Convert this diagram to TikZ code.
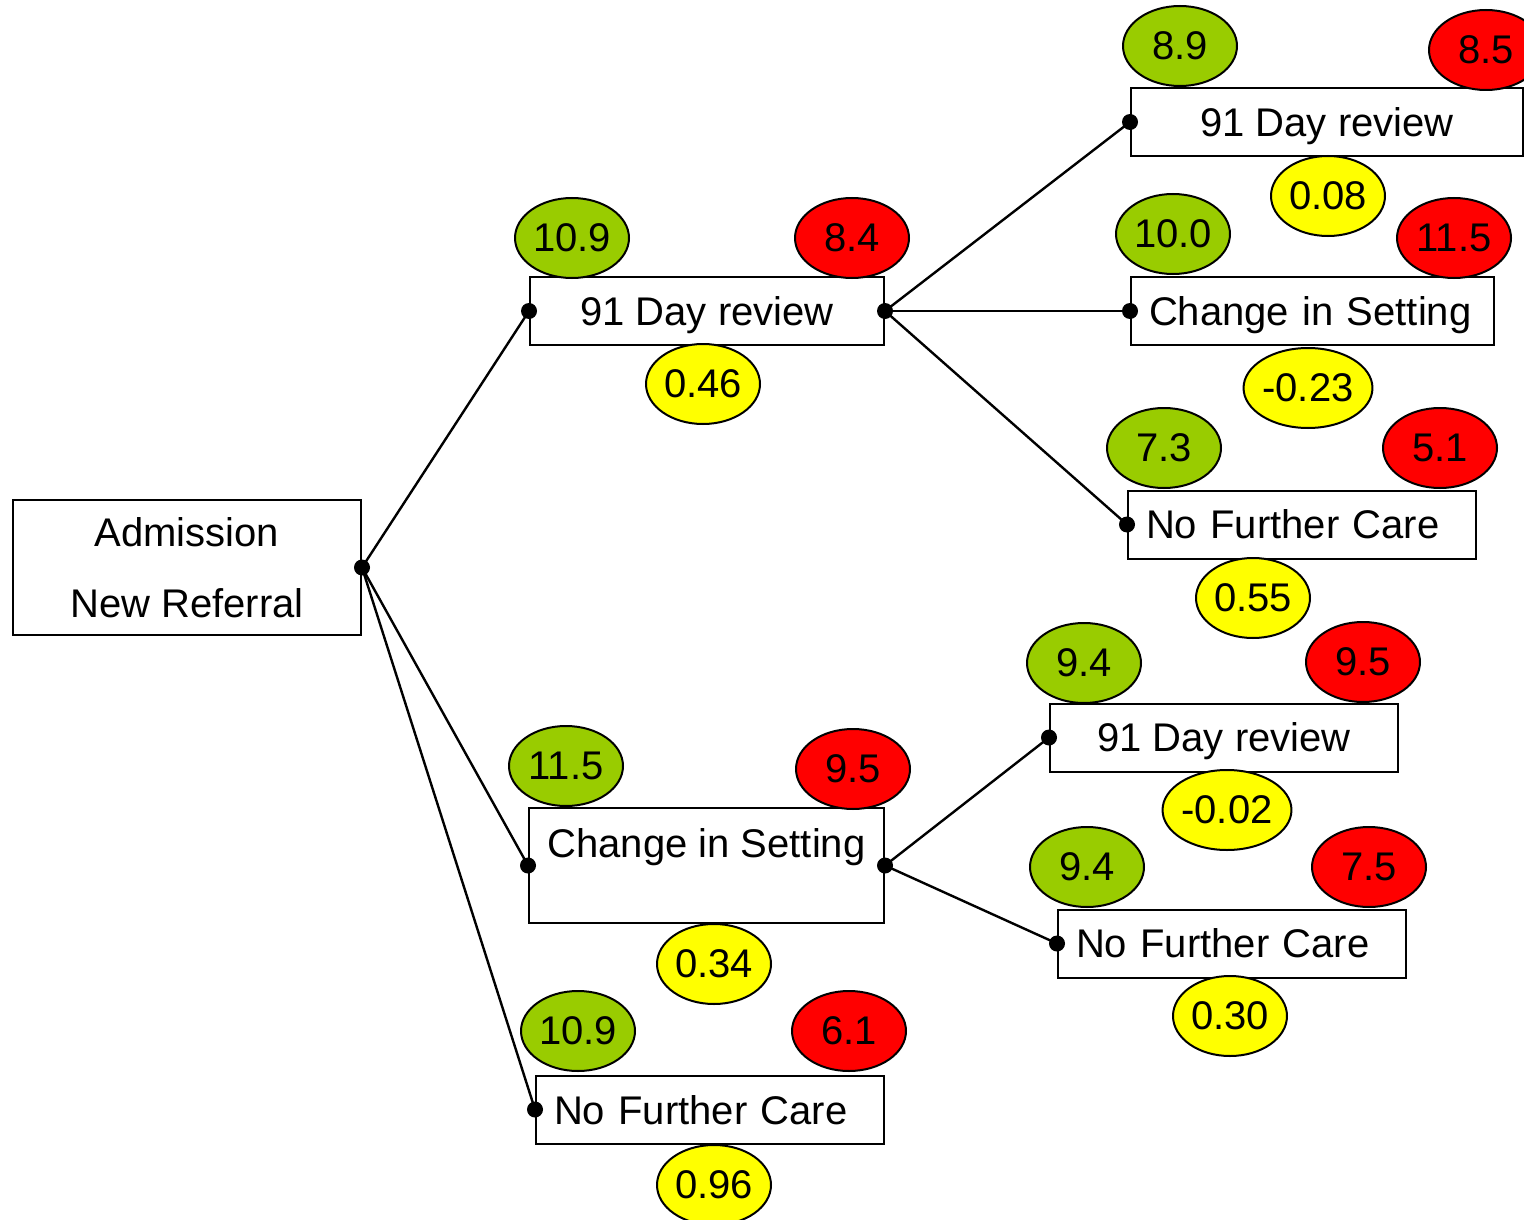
\documentclass[tikz,border=0pt]{standalone}
\usepackage{fontspec}
\setmainfont{Liberation Sans}
\usetikzlibrary{shapes.geometric}
\definecolor{goodgreen}{HTML}{99CC00}
\definecolor{badred}{HTML}{FF0000}
\definecolor{midyellow}{HTML}{FFFF00}
\begin{document}
\begin{tikzpicture}[x=1pt,y=-1pt,
  every node/.style={font=\fontsize{40}{44}\selectfont},
  tbox/.style={draw, line width=2pt, fill=white, minimum height=68pt, inner sep=0pt, text depth=0pt},
  cbox/.style={tbox, minimum width=#1},
  lbox/.style={tbox, align=left, inner xsep=18pt, text width=#1},
  oval/.style={ellipse, draw, line width=2pt, minimum width=114pt, minimum height=80pt, inner sep=0pt},
  gain/.style={oval, fill=goodgreen},
  loss/.style={oval, fill=badred},
  net/.style={oval, fill=midyellow},
  link/.style={line width=2.4pt},
  dot/.style={fill=black}]
\clip (0,0) rectangle (1524,1220);

% decision boxes
\node[cbox=348pt, minimum height=135pt, align=center] (adm) at (187,567.5) {Admission\\[27pt]New Referral};
\node[cbox=354pt] (r1) at (707,311) {91 Day review};
\node[cbox=355pt, minimum height=115pt, align=center] (s1) at (706.5,865.5) {Change in Setting\\\mbox{}};
\node[lbox=312pt] (n1) at (710,1109.5) {No Further Care};

\node[cbox=392pt] (r2) at (1327,122) {91 Day review};
\node[lbox=327pt] (s2) at (1312.5,311) {Change in Setting};
\node[lbox=312pt] (n2) at (1302,524.5) {No Further Care};

\node[cbox=348pt] (r3) at (1224,737.5) {91 Day review};
\node[lbox=312pt] (n3) at (1232,943.5) {No Further Care};

% branches
\draw[link] (adm.east) -- (r1.west);
\draw[link] (adm.east) -- (s1.west);
\draw[link] (adm.east) -- (n1.west);
\draw[link] (r1.east) -- (r2.west);
\draw[link] (r1.east) -- (s2.west);
\draw[link] (r1.east) -- (n2.west);
\draw[link] (s1.east) -- (r3.west);
\draw[link] (s1.east) -- (n3.west);

% junction dots
\foreach \p in {adm.east, r1.west, r1.east, s1.west, s1.east, n1.west,
                r2.west, s2.west, n2.west, r3.west, n3.west}
  \fill[dot] (\p) circle (8pt);

% scores
\node[gain] (g1) at (572,238) {10.9};
\node[loss] (l1) at (852,238) {8.4};
\node[net]  (y1) at (703,384) {0.46};

\node[gain] (g2) at (566,766) {11.5};
\node[loss] (l2) at (853,769) {9.5};
\node[net]  (y2) at (714,964) {0.34};

\node[gain] (g3) at (578,1031) {10.9};
\node[loss] (l3) at (849,1031) {6.1};
\node[net]  (y3) at (714,1185) {0.96};

\node[gain] (g4) at (1180,46) {8.9};
\node[loss] (l4) at (1486,50) {8.5};
\node[net]  (y4) at (1328,196) {0.08};

\node[gain] (g5) at (1173,234) {10.0};
\node[loss] (l5) at (1454,238) {11.5};
\node[net]  (y5) at (1308,388) {-0.23};

\node[gain] (g6) at (1164,448) {7.3};
\node[loss] (l6) at (1440,448) {5.1};
\node[net]  (y6) at (1253,598) {0.55};

\node[gain] (g7) at (1084,663) {9.4};
\node[loss] (l7) at (1363,662) {9.5};
\node[net]  (y7) at (1227,810) {-0.02};

\node[gain] (g8) at (1087,867) {9.4};
\node[loss] (l8) at (1369,867) {7.5};
\node[net]  (y8) at (1230,1016) {0.30};
\end{tikzpicture}
\end{document}
